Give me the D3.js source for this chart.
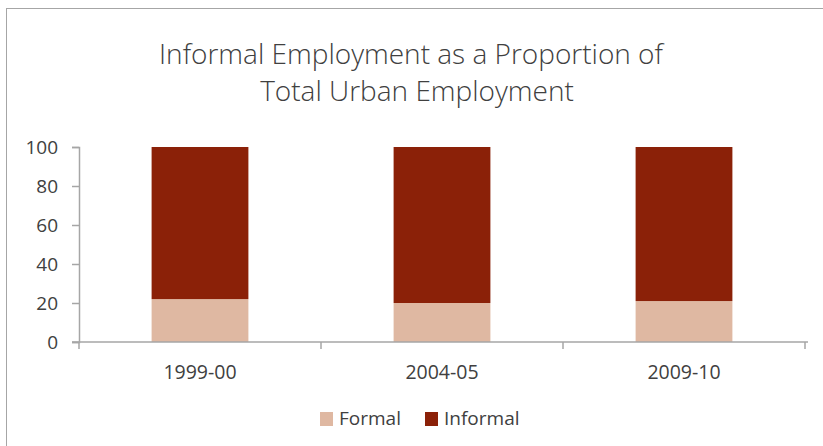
<!DOCTYPE html>
<html>
<head>
<meta charset="utf-8">
<script src="https://cdn.jsdelivr.net/npm/d3@7"></script>
<style>
  html, body { margin: 0; padding: 0; background: #fff; }
  svg { display: block; }
</style>
</head>
<body>
<div id="chart"></div>
<script>
  // Data
  const categories = ['1999-00', '2004-05', '2009-10'];
  const formal = [22, 20, 21];
  const informal = [78, 80, 79];
  const seriesNames = ['Formal', 'Informal'];
  const yTicks = [0, 20, 40, 60, 80, 100];

  const COLORS = { Formal: '#dfb8a2', Informal: '#8b2108' };
  const W = 823, H = 446;
  const FONT = '"Open Sans", Lato, sans-serif';
  const TEXT = '#404040';

  const svg = d3.select('#chart').append('svg')
    .attr('width', W).attr('height', H);

  // outer chart frame
  svg.append('rect')
    .attr('x', 6.5).attr('y', 8.5)
    .attr('width', 830).attr('height', 450)
    .attr('fill', '#fff').attr('stroke', '#a6a6a6').attr('stroke-width', 1);

  // title
  const title = svg.append('text')
    .attr('text-anchor', 'middle')
    .attr('font-family', FONT).attr('font-weight', 300)
    .attr('font-size', 28).attr('fill', TEXT);
  title.append('tspan').attr('x', 411).attr('y', 64).text('Informal Employment as a Proportion of');
  title.append('tspan').attr('x', 417).attr('y', 101).text('Total Urban Employment');

  const plot = { left: 79, right: 805, top: 147, bottom: 342 };

  const x = d3.scaleBand().domain(categories)
    .range([plot.left, plot.right]).paddingInner(0.6).paddingOuter(0.3);
  const y = d3.scaleLinear().domain([0, 100]).range([plot.bottom, plot.top]);

  const rows = categories.map((c, i) => ({ cat: c, Formal: formal[i], Informal: informal[i] }));
  const stacked = d3.stack().keys(seriesNames)(rows);

  svg.append('g').selectAll('g')
    .data(stacked).enter().append('g')
    .attr('fill', d => COLORS[d.key])
    .selectAll('rect')
    .data(d => d).enter().append('rect')
    .attr('x', d => x(d.data.cat))
    .attr('width', x.bandwidth())
    .attr('y', d => y(d[1]))
    .attr('height', d => y(d[0]) - y(d[1]));

  // y axis
  const yAxis = svg.append('g')
    .attr('transform', 'translate(' + plot.left + ',0)')
    .call(d3.axisLeft(y).tickValues(yTicks).tickSize(7).tickPadding(14));
  yAxis.select('.domain').attr('stroke', '#a6a6a6').attr('stroke-width', 1.5);
  yAxis.selectAll('.tick line').attr('stroke', '#a6a6a6').attr('stroke-width', 1.5);
  yAxis.selectAll('.tick text')
    .attr('font-family', FONT).attr('font-size', 19).attr('fill', TEXT);

  // x axis
  const xBound = d3.range(categories.length + 1).map(i => plot.left + i * (plot.right - plot.left) / categories.length);
  const xAxis = svg.append('g')
    .attr('transform', 'translate(0,' + plot.bottom + ')');
  xAxis.append('line')
    .attr('x1', plot.left - 7).attr('x2', plot.right + 3)
    .attr('stroke', '#a6a6a6').attr('stroke-width', 1.5);
  xAxis.selectAll('line.tk').data(xBound).enter().append('line')
    .attr('class', 'tk')
    .attr('x1', d => d).attr('x2', d => d)
    .attr('y1', 0).attr('y2', 7)
    .attr('stroke', '#a6a6a6').attr('stroke-width', 1.5);
  xAxis.selectAll('text').data(categories).enter().append('text')
    .attr('x', d => x(d) + x.bandwidth() / 2)
    .attr('y', 37)
    .attr('text-anchor', 'middle')
    .attr('font-family', FONT).attr('font-size', 19.5).attr('fill', TEXT)
    .text(d => d);

  // legend
  const legend = svg.append('g').attr('transform', 'translate(320,425)');
  const legendX = [0, 105];
  seriesNames.forEach(function (name, i) {
    const gI = legend.append('g').attr('transform', 'translate(' + legendX[i] + ',0)');
    gI.append('rect').attr('x', 0).attr('y', -13).attr('width', 13).attr('height', 14)
      .attr('fill', COLORS[name]);
    gI.append('text').attr('x', 19).attr('y', 0)
      .attr('font-family', FONT).attr('font-size', 19).attr('fill', TEXT)
      .text(name);
  });
</script>
</body>
</html>
